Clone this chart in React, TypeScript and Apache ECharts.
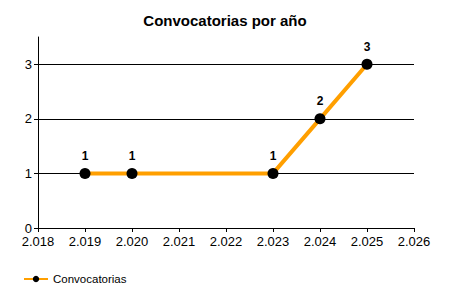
import React, { useEffect, useRef } from "react";
import * as echarts from "echarts";

const years = [2019, 2020, 2023, 2024, 2025];
const counts = [1, 1, 1, 2, 3];
const yTicks = [0, 1, 2, 3];
const gridValues = [1, 2, 3];
const seriesName = "Convocatorias";
const titleText = "Convocatorias por año";

const fmtYear = (v: number) => {
  const s = String(Math.round(v));
  return s.length > 3 ? s.slice(0, s.length - 3) + "." + s.slice(-3) : s;
};

export default function App() {
  const ref = useRef<HTMLDivElement>(null);
  useEffect(() => {
    if (!ref.current) return;
    const chart = echarts.init(ref.current, null, { renderer: "svg" });
    const font = "'Liberation Sans', Arial, sans-serif";
    chart.setOption({
      animation: false,
      textStyle: { fontFamily: font },
      title: {
        text: titleText,
        left: "center",
        top: 8,
        textStyle: { fontSize: 15, fontWeight: "bold", color: "#000", fontFamily: font },
      },
      legend: {
        left: 18,
        top: 268,
        itemWidth: 24,
        itemHeight: 8,
        itemGap: 4,
        data: [seriesName],
        textStyle: { fontSize: 11.5, color: "#000", fontFamily: font },
      },
      grid: { left: 38, right: 36, top: 37, bottom: 72, containLabel: false },
      xAxis: {
        type: "value",
        min: 2018,
        max: 2026,
        interval: 1,
        axisLine: { show: true, onZero: false, lineStyle: { color: "#000", width: 1 } },
        axisTick: { show: true, length: 4, lineStyle: { color: "#000" } },
        axisLabel: { color: "#000", fontSize: 13, margin: 7, formatter: fmtYear },
        splitLine: { show: false },
      },
      yAxis: {
        type: "value",
        min: 0,
        max: 3.5,
        interval: 1,
        axisLine: { show: true, lineStyle: { color: "#000", width: 1 } },
        axisTick: { show: true, length: 4, customValues: yTicks, lineStyle: { color: "#000" } },
        axisLabel: { color: "#000", fontSize: 13, margin: 6, customValues: yTicks },
        splitLine: { show: false },
      },
      series: [
        {
          name: seriesName,
          type: "line",
          data: years.map((y, i) => [y, counts[i]]),
          symbol: "circle",
          symbolSize: 11,
          itemStyle: { color: "#000" },
          lineStyle: { color: "#FF9F00", width: 4 },
          z: 3,
          label: {
            show: true,
            position: "top",
            distance: 6,
            color: "#000",
            fontWeight: "bold",
            fontSize: 12,
            formatter: (p: any) => String(p.value[1]),
          },
          markLine: {
            silent: true,
            symbol: "none",
            z: 1,
            label: { show: false },
            lineStyle: { color: "#000", width: 1, type: "solid" },
            data: gridValues.map((v) => ({ yAxis: v })),
          },
        },
      ],
    });
    return () => chart.dispose();
  }, []);
  return <div ref={ref} style={{ width: 450, height: 300, position: "absolute", left: 0, top: 0 }} />;
}
